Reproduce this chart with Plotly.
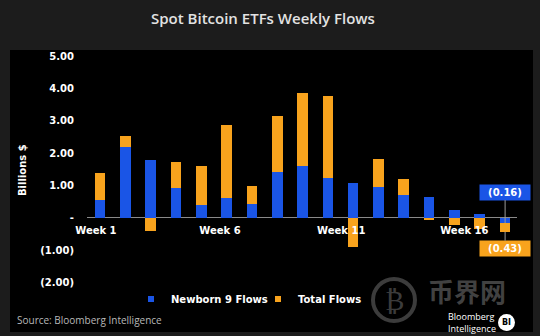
import plotly.graph_objects as go

# ---- data ----
weeks = list(range(1, 18))
newborn9 = [0.56, 2.19, 1.80, 0.92, 0.40, 0.61, 0.42, 1.43, 1.62, 1.23, 1.08, 0.95, 0.71, 0.66, 0.25, 0.11, -0.16]
total_flows = [1.40, 2.53, -0.42, 1.72, 1.59, 2.87, 1.00, 3.14, 3.86, 3.78, -0.89, 1.82, 1.20, -0.08, -0.22, -0.35, -0.43]
x_tick_labels = ["Week 1", "Week 6", "Week 11", "Week 16"]
x_tick_pos = [0.84, 5.74, 10.53, 15.39]
y_tick_vals = [-2, -1, 0, 1, 2, 3, 4, 5]
y_tick_text = ["(2.00)", "(1.00)", "-", "1.00", "2.00", "3.00", "4.00", "5.00"]

BLUE = "#1a55e6"
ORANGE = "#f8a31d"
W, H = 540, 336
ML, MR, MT, MB = 87, 23, 53, 47
PW, PH = W - ML - MR, H - MT - MB


def px(xp):
    return (xp - ML) / PW


def py(yp):
    return (H - MB - yp) / PH


BOLD = "DejaVu Sans"

fig = go.Figure()
fig.add_trace(go.Bar(x=weeks, y=total_flows, name="Total Flows", marker_color=ORANGE,
                     marker_line_width=0, width=0.42, showlegend=False))
fig.add_trace(go.Bar(x=weeks, y=newborn9, name="Newborn 9 Flows", marker_color=BLUE,
                     marker_line_width=0, width=0.42, showlegend=False))
# legend entries (small square keys as in the reference)
fig.add_trace(go.Scatter(x=[None], y=[None], mode="markers", name="Newborn 9 Flows",
                         marker=dict(symbol="square", size=6, color=BLUE), legendrank=1))
fig.add_trace(go.Scatter(x=[None], y=[None], mode="markers", name="Total Flows",
                         marker=dict(symbol="square", size=6, color=ORANGE), legendrank=2))

shapes = [
    dict(type="rect", xref="paper", yref="paper", x0=px(10), x1=px(533), y0=py(332), y1=py(50),
         fillcolor="#000000", line_width=0, layer="below"),
    # BI logo circle
    dict(type="circle", xref="paper", yref="paper", x0=px(498), x1=px(515), y0=py(331), y1=py(314),
         fillcolor="#ffffff", line_width=0, layer="below"),
    # watermark circle
    dict(type="circle", xref="paper", yref="paper", x0=px(373), x1=px(415), y0=py(321), y1=py(279),
         fillcolor="rgba(0,0,0,0)", line=dict(color="rgba(100,100,100,0.6)", width=4), layer="below"),
]


def note(text, x, y, size, color, family="Open Sans", xanchor="center", **kw):
    return dict(text=text, xref="paper", yref="paper", x=px(x), y=py(y), showarrow=False,
                xanchor=xanchor, yanchor="middle", font=dict(family=family, size=size, color=color), **kw)


annotations = [
    note("Spot Bitcoin ETFs Weekly Flows", 263, 18, 15, "#e2e2e2"),
    note("<b>Billions $</b>", 22, 170, 10, "#ffffff", family=BOLD, textangle=-90),
    dict(text="(0.16)", x=weeks[-1], y=newborn9[-1], xref="x", yref="y", ax=0, ay=-31,
         showarrow=True, arrowhead=0, arrowwidth=1, arrowcolor="#9a9a9a",
         bgcolor=BLUE, borderpad=2, width=46,
         font=dict(family=BOLD, size=10, color="#ffffff", weight="bold")),
    dict(text="(0.43)", x=weeks[-1], y=total_flows[-1], xref="x", yref="y", ax=0, ay=17,
         showarrow=True, arrowhead=0, arrowwidth=1, arrowcolor="#9a9a9a",
         bgcolor=ORANGE, borderpad=2, width=46,
         font=dict(family=BOLD, size=10, color="#ffffff", weight="bold")),
    note("Source: Bloomberg Intelligence", 15, 320, 10, "#b8b8b8", xanchor="left"),
    note("Bloomberg<br>Intelligence", 446, 322, 9, "#ffffff", xanchor="left", align="left"),
    note("<b>BI</b>", 506.5, 322.5, 8, "#000000", family=BOLD),
    note("₿", 394, 300, 28, "rgba(100,100,100,0.6)", family="DejaVu Sans"),
    note("<b>币界网</b>", 467, 290, 26, "rgba(110,110,110,0.6)", family="Noto Sans CJK SC"),
]
annotations[0]["font"]["weight"] = 600

fig.update_layout(
    width=W, height=H,
    margin=dict(l=ML, r=MR, t=MT, b=MB),
    paper_bgcolor="#1c1c1c", plot_bgcolor="#000000",
    barmode="overlay", bargap=0,
    shapes=shapes, annotations=annotations,
    showlegend=True,
    legend=dict(orientation="h", x=px(131), y=py(299), yanchor="middle", xanchor="left",
                bgcolor="rgba(0,0,0,0)", font=dict(family=BOLD, size=10, color="#ffffff", weight="bold"),
                entrywidthmode="pixels", entrywidth=82, itemwidth=30, traceorder="normal"),
    xaxis=dict(range=[0.49, 17.47], tickmode="array", tickvals=x_tick_pos, ticktext=x_tick_labels,
               showgrid=False, zeroline=False, showline=False, ticks="",
               anchor="free", position=py(218), ticklabelstandoff=5,
               tickfont=dict(family=BOLD, size=10, color="#ffffff", weight="bold")),
    yaxis=dict(range=[-2.2, 5.1], tickmode="array", tickvals=y_tick_vals,
               ticktext=y_tick_text, showgrid=False, zeroline=True, zerolinecolor="#8a8a8a",
               zerolinewidth=1, showline=False, ticks="", ticklabelstandoff=12,
               tickfont=dict(family=BOLD, size=10, color="#ffffff", weight="bold")),
)

fig.write_html("out.html")
